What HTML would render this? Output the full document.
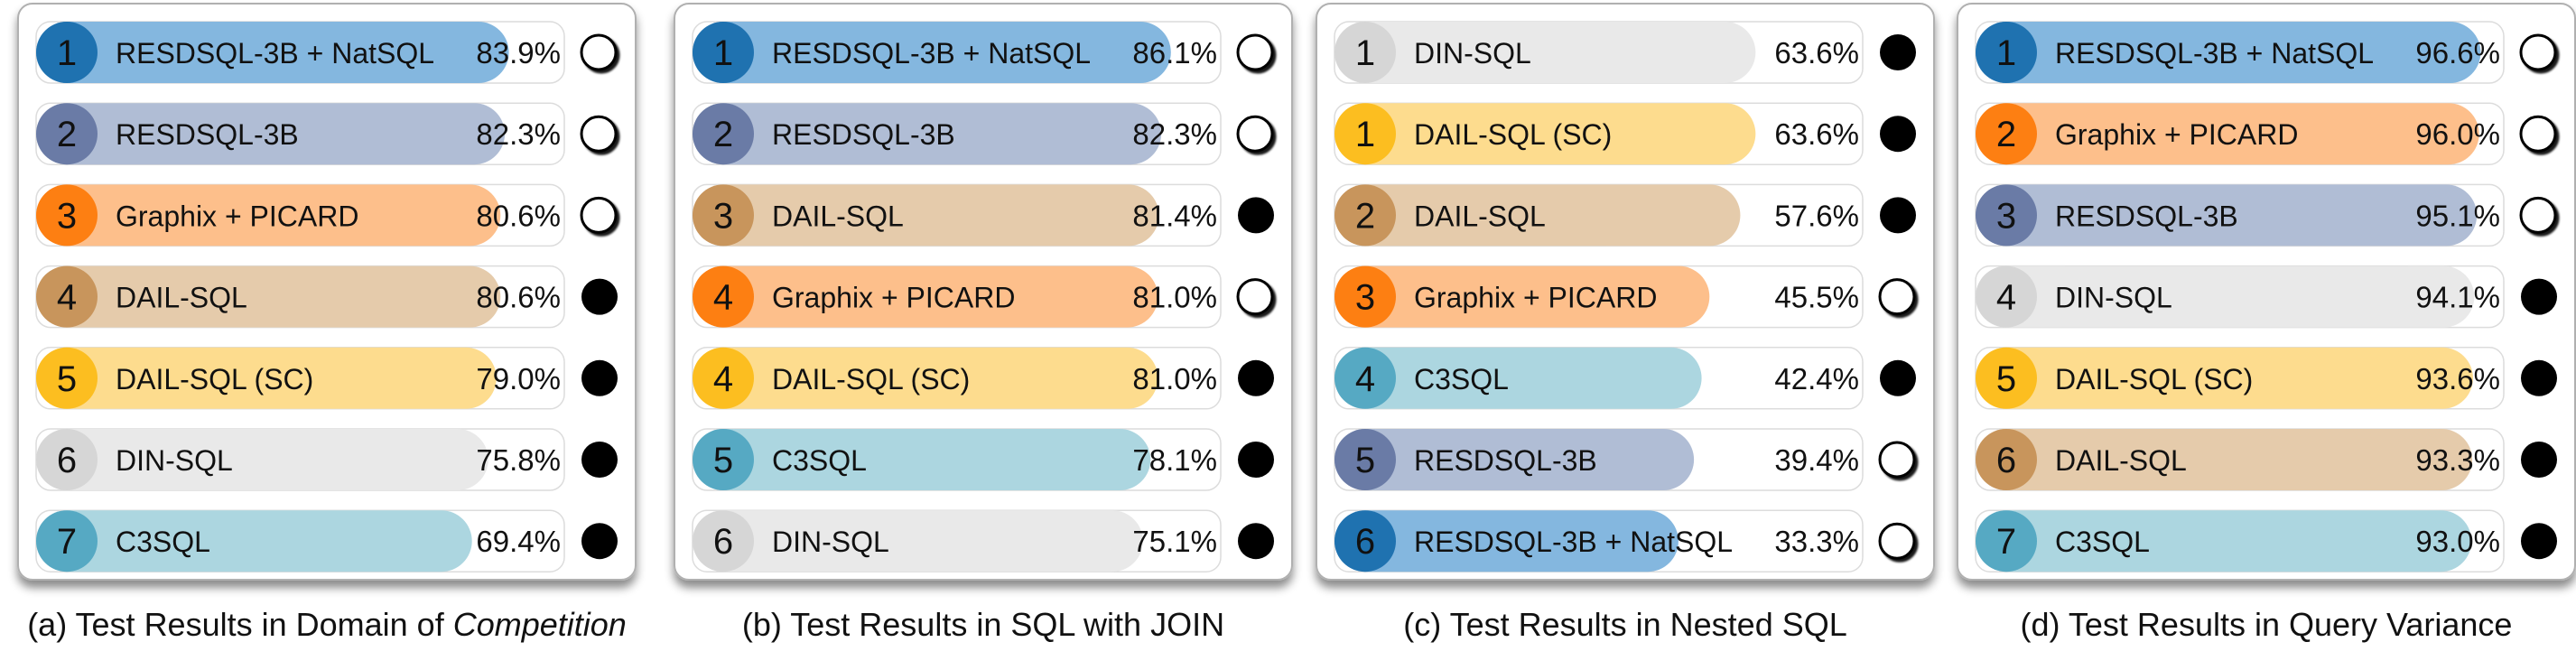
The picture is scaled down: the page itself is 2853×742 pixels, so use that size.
<!DOCTYPE html>
<html><head><meta charset="utf-8"><style>
html,body{margin:0;padding:0;background:#fff;}
svg{display:block;font-family:"Liberation Sans","DejaVu Sans",sans-serif;}
</style></head><body>
<svg id="chart" width="2853" height="742" viewBox="0 0 2853 742" xmlns="http://www.w3.org/2000/svg">
<defs>
<filter id="boxsh" x="-5%" y="-5%" width="110%" height="115%"><feDropShadow dx="0" dy="8" stdDeviation="5" flood-color="#000" flood-opacity="0.45"/></filter>
<filter id="ringsh" x="-30%" y="-30%" width="160%" height="160%"><feDropShadow dx="3" dy="3" stdDeviation="1" flood-color="#000" flood-opacity="0.9"/></filter>
</defs>
</svg>
<script>
// Panel data
const panelCaptions = ["(a) Test Results in Domain of ", "(b) Test Results in SQL with JOIN", "(c) Test Results in Nested SQL", "(d) Test Results in Query Variance"];
const namesA = ["RESDSQL-3B + NatSQL","RESDSQL-3B","Graphix + PICARD","DAIL-SQL","DAIL-SQL (SC)","DIN-SQL","C3SQL"];
const ranksA = [1,2,3,4,5,6,7];
const valuesA = [83.9,82.3,80.6,80.6,79.0,75.8,69.4];
const filledA = [0,0,0,1,1,1,1];
const namesB = ["RESDSQL-3B + NatSQL","RESDSQL-3B","DAIL-SQL","Graphix + PICARD","DAIL-SQL (SC)","C3SQL","DIN-SQL"];
const ranksB = [1,2,3,4,4,5,6];
const valuesB = [86.1,82.3,81.4,81.0,81.0,78.1,75.1];
const filledB = [0,0,1,0,1,1,1];
const namesC = ["DIN-SQL","DAIL-SQL (SC)","DAIL-SQL","Graphix + PICARD","C3SQL","RESDSQL-3B","RESDSQL-3B + NatSQL"];
const ranksC = [1,1,2,3,4,5,6];
const valuesC = [63.6,63.6,57.6,45.5,42.4,39.4,33.3];
const filledC = [1,1,1,0,1,0,0];
const namesD = ["RESDSQL-3B + NatSQL","Graphix + PICARD","RESDSQL-3B","DIN-SQL","DAIL-SQL (SC)","DAIL-SQL","C3SQL"];
const ranksD = [1,2,3,4,5,6,7];
const valuesD = [96.6,96.0,95.1,94.1,93.6,93.3,93.0];
const filledD = [0,0,0,1,1,1,1];

const colors = {
 "RESDSQL-3B + NatSQL":["#1f72b0","#84b7df"],
 "RESDSQL-3B":["#6a7ba6","#b0bdd5"],
 "Graphix + PICARD":["#fd7f12","#fdbf8b"],
 "DAIL-SQL":["#c8955c","#e5cbab"],
 "DAIL-SQL (SC)":["#fcbe20","#fddc8e"],
 "DIN-SQL":["#d6d6d6","#e9e9e9"],
 "C3SQL":["#56a9c3","#acd6e0"]
};
const NS="http://www.w3.org/2000/svg";
const svg=document.getElementById('chart');
function mk(tag,attrs,parent){const e=document.createElementNS(NS,tag);for(const k in attrs)e.setAttribute(k,attrs[k]);(parent||svg).appendChild(e);return e;}
function barW(v){return 287+2.82*v;}
const panels=[[namesA,ranksA,valuesA,filledA],[namesB,ranksB,valuesB,filledB],[namesC,ranksC,valuesC,filledC],[namesD,ranksD,valuesD,filledD]];
const lefts=[20,747,1458,2168];
const BW=684, TOP=4, BH=638, ROW0=58, PITCH=90.2, RH=68;
panels.forEach((p,pi)=>{
 const L=lefts[pi];
 const g=mk('g',{});
 
 
 const box=mk('rect',{x:L,y:TOP,width:BW,height:BH,rx:16,fill:'#fff',stroke:'#b0b0b0','stroke-width':2,filter:'url(#boxsh)'},g);
 
 
 const [names,ranks,vals,fill]=p;
 names.forEach((n,i)=>{
  const cy=ROW0+i*PITCH, tx=L+20, tw=585;
  const row=mk('g',{},g);
  
  
  const tr=mk('rect',{x:tx,y:cy-RH/2,width:tw,height:RH,rx:16,fill:'#fff',stroke:'#dcdcdc','stroke-width':1.5},row);
  
  
  const c=colors[n];
  const b=mk('rect',{x:tx,y:cy-RH/2,width:barW(vals[i]),height:RH,rx:RH/2,fill:c[1]},row);
  
  
  const bd=mk('circle',{cx:tx+RH/2,cy:cy,r:RH/2,fill:c[0]},row);
  
  
  const rt=mk('text',{x:tx+RH/2,y:cy+14,'text-anchor':'middle','font-size':40,fill:'#111'},row);
  rt.textContent=ranks[i];
  
  
  const lt=mk('text',{x:L+108,y:cy+12,'font-size':32,fill:'#111'},row);
  lt.textContent=n;
  
  
  const vt=mk('text',{x:L+601,y:cy+12,'text-anchor':'end','font-size':33,fill:'#111'},row);
  vt.textContent=vals[i].toFixed(1)+'%';
  
  
  const mkAttrs=fill[i]?{cx:L+644,cy:cy,r:20,fill:'#000'}:{cx:L+643,cy:cy,r:19,fill:'#fff',stroke:'#000','stroke-width':3,filter:'url(#ringsh)'};
  const m=mk('circle',mkAttrs,row);
  
  
 });
 const cap=mk('text',{x:L+BW/2,y:704,'text-anchor':'middle','font-size':36,fill:'#111'},g);
 cap.textContent=panelCaptions[pi];
 if(pi===0){const it=mk('tspan',{'font-style':'italic'},cap);it.textContent='Competition';}
 
 
});
</script>
</body></html>
